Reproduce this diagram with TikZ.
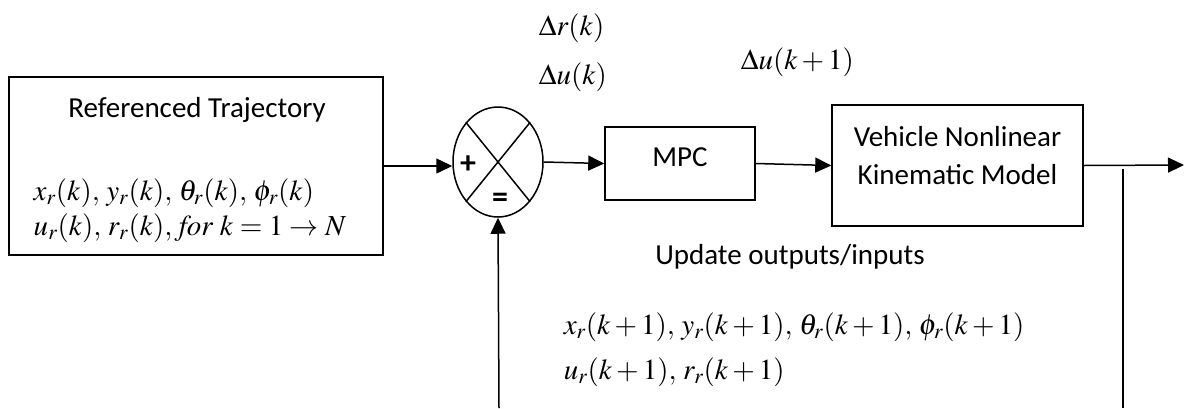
\documentclass[tikz,border=0pt]{standalone}
\usepackage{mathptmx}
\usepackage{fontspec}
\setmainfont{Carlito}
\usetikzlibrary{arrows.meta,shapes.geometric}
\begin{document}
\begin{tikzpicture}[x=1pt,y=-1pt, line width=1.5pt,
  blk/.style={draw, inner sep=0pt},
  arr/.style={-{Triangle[length=16pt,width=15pt]}},
  lbl/.style={font=\fontsize{29}{38}\selectfont, inner sep=0pt, align=center},
  mth/.style={font=\fontsize{29}{33}\selectfont, inner sep=0pt, anchor=west},
  sgn/.style={font=\fontsize{32}{32}\selectfont\bfseries, inner sep=0pt}]
\useasboundingbox (0,0) rectangle (1184,408);
% reference block
\node[blk, minimum width=374pt, minimum height=178pt] (ref) at (196,166) {};
\node[lbl] (reft) at (197,110) {Referenced Trajectory};
\node[mth] (refm1) at (33,193) {$x_r(k),\,y_r(k),\,\theta_r(k),\,\phi_r(k)$};
\node[mth] (refm2) at (33,228) {$u_r(k),\,r_r(k),\,\mathit{for}\ k = 1 \rightarrow N$};
% summing junction
\node[draw, ellipse, minimum width=90pt, minimum height=110pt, inner sep=0pt] (sum) at (498,162) {};
\draw (sum.51) -- (sum.231);
\draw (sum.129) -- (sum.309);
\node[sgn] (plus) at (468,165) {+};
\node[sgn] (minus) at (500,200) {=};
% MPC
\node[blk, minimum width=150pt, minimum height=73pt] (mpc) at (680,163.5) {};
\node[lbl] (mpct) at (680,157) {MPC};
% vehicle model
\node[blk, minimum width=251pt, minimum height=121pt] (veh) at (957.5,165.5) {};
\node[lbl] (veht) at (957.5,156) {Vehicle Nonlinear\\Kinematic Model};
% labels
\node[mth] (dr) at (538,28) {$\Delta r(k)$};
\node[mth] (du) at (538,77) {$\Delta u(k)$};
\node[mth] (du1) at (740,62) {$\Delta u(k+1)$};
\node[lbl] (upd) at (790,257) {Update outputs/inputs};
\node[mth] (um1) at (563,327) {$x_r(k+1),\,y_r(k+1),\,\theta_r(k+1),\,\phi_r(k+1)$};
\node[mth] (um2) at (563,372) {$u_r(k+1),\,r_r(k+1)$};
% connectors
\coordinate (out) at (1184,165);
\coordinate (fb1) at (1123,169);
\coordinate (fb2) at (1123,408);
\coordinate (fb3) at (499,408);
\draw[arr] (ref.east) -- (ref.east -| sum.west);
\draw[arr] (sum.east) -- (mpc.west);
\draw[arr] (mpc.east) -- (veh.west);
\draw[arr] (veh.east) -- (out);
\draw (fb1) -- (fb2);
\draw[arr] (fb3) -- (sum.south);
\end{tikzpicture}
\end{document}
